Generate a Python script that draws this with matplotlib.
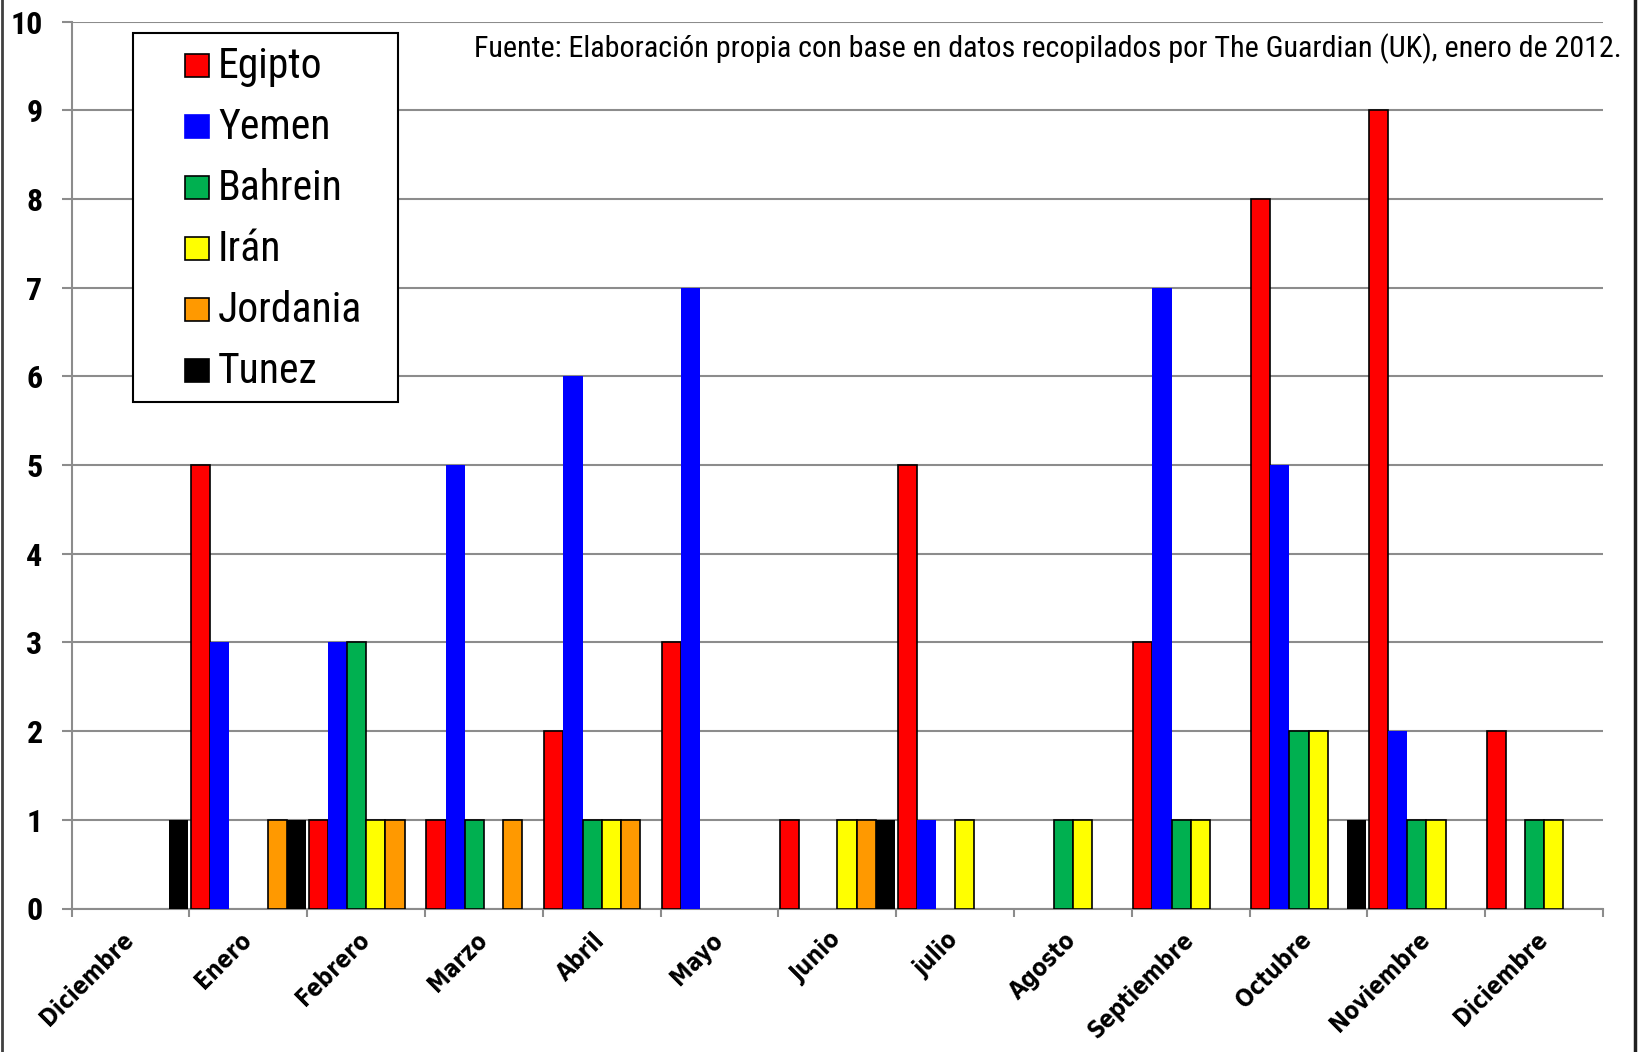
import matplotlib.pyplot as plt
import matplotlib.transforms as mtransforms
from matplotlib.patches import Rectangle
from matplotlib.lines import Line2D
import numpy as np

# data (number of events per month)
months = ['Diciembre', 'Enero', 'Febrero', 'Marzo', 'Abril', 'Mayo', 'Junio',
          'julio', 'Agosto', 'Septiembre', 'Octubre', 'Noviembre', 'Diciembre']
series = ['Egipto', 'Yemen', 'Bahrein', 'Irán', 'Jordania', 'Tunez']
egipto = [0, 5, 1, 1, 2, 3, 1, 5, 0, 3, 8, 9, 2]
yemen = [0, 3, 3, 5, 6, 7, 0, 1, 0, 7, 5, 2, 0]
bahrein = [0, 0, 3, 1, 1, 0, 0, 0, 1, 1, 2, 1, 1]
iran = [0, 0, 1, 0, 1, 0, 1, 1, 1, 1, 2, 1, 1]
jordania = [0, 1, 1, 1, 1, 0, 1, 0, 0, 0, 0, 0, 0]
tunez = [1, 1, 0, 0, 0, 0, 1, 0, 0, 0, 1, 0, 0]
values = [egipto, yemen, bahrein, iran, jordania, tunez]

colors = ['#FF0000', '#0000FF', '#00B050', '#FFFF00', '#FF9900', '#000000']
edges = ['black', 'none', 'black', 'black', 'black', 'none']
source = 'Fuente: Elaboración propia con base en datos recopilados por The Guardian (UK), enero de 2012.'

NARROW = 'Roboto Condensed'

W, H = 1638, 1052
fig = plt.figure(figsize=(W / 100, H / 100), dpi=100)
ax = fig.add_axes([71.7 / W, 1 - 908.5 / H, (1603 - 71.7) / W, (908.5 - 21.7) / H])

grey = '#8C8C8C'
n = len(months)
x = np.arange(n) + 0.5
w = 0.163
for j, vals in enumerate(values):
    vals = np.array(vals)
    keep = vals > 0  # Excel draws nothing for zero
    ax.bar((x + (j - 2.5) * w)[keep], vals[keep], width=w, color=colors[j],
           edgecolor=edges[j], linewidth=1.2, zorder=3)

ax.set_xlim(0, n)
ax.set_ylim(0, 10)
ax.set_yticks(range(0, 11))
ax.yaxis.grid(True, color=grey, linewidth=1.5, zorder=0)
ax.set_axisbelow(True)

ax.set_xticks(range(0, n + 1))
ax.set_xticklabels([])
ax.set_xticks(x, minor=True)
ax.set_xticklabels(months, minor=True, rotation=45, ha='right', va='top',
                   fontsize=17, fontweight='bold', family='DejaVu Sans',
                   fontstretch='condensed')
ax.tick_params(axis='x', which='major', length=6, width=1.5, color=grey)
ax.tick_params(axis='x', which='minor', length=0, pad=14)
ax.tick_params(axis='y', length=7, width=1.5, color=grey, pad=14)
offset = mtransforms.ScaledTranslation(8 / 100, 0, fig.dpi_scale_trans)
for lab in ax.get_xticklabels(minor=True):
    lab.set_transform(lab.get_transform() + offset)
for lab in ax.get_yticklabels():
    lab.set_fontfamily(NARROW)
    lab.set_fontweight('bold')
    lab.set_fontsize(23)

for s in ['top', 'right']:
    ax.spines[s].set_visible(False)
for s in ['left', 'bottom']:
    ax.spines[s].set_color(grey)
    ax.spines[s].set_linewidth(1.5)

# legend box drawn by hand to match the original placement
def fx(px):
    return px / W

def fy(py):
    return 1 - py / H

fig.patches.append(Rectangle((fx(133), fy(401.7)), fx(398.5) - fx(133), fy(33.3) - fy(401.7),
                             transform=fig.transFigure, facecolor='white',
                             edgecolor='black', linewidth=1.5, zorder=5))
for i, name in enumerate(series):
    base = 78 + 61 * i
    fig.patches.append(Rectangle((fx(185), fy(base - 1)), fx(209) - fx(185), fy(base - 24) - fy(base - 1),
                                 transform=fig.transFigure, facecolor=colors[i],
                                 edgecolor='black' if edges[i] != 'none' else colors[i],
                                 linewidth=1.2, zorder=6))
    fig.text(fx(218), fy(base), name, fontsize=30, family=NARROW,
             va='baseline', ha='left', zorder=6)

fig.text(fx(1622), fy(57), source, fontsize=21.7, family=NARROW,
         va='baseline', ha='right')

# figure border (left and right edges visible in the original)
fig.lines.append(Line2D([fx(1.5), fx(1.5)], [0, 1], transform=fig.transFigure, color='#404040', linewidth=2))
fig.lines.append(Line2D([fx(1635), fx(1635)], [0, 1], transform=fig.transFigure, color='#202020', linewidth=2.5))

fig.savefig('out.png', dpi=100)
